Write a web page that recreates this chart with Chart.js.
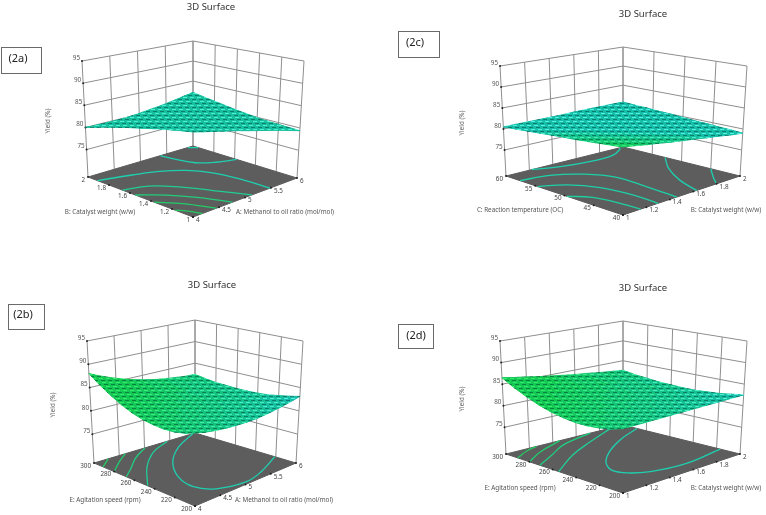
<!DOCTYPE html>
<html>
<head>
<meta charset="utf-8">
<title>3D Surface</title>
<script src="https://cdn.jsdelivr.net/npm/chart.js@4/dist/chart.umd.min.js"></script>
<style>
html,body{margin:0;padding:0;background:#fff;}
#page{position:relative;width:766px;height:515px;overflow:hidden;}
canvas{position:absolute;}
</style>
</head>
<body>
<div id="page"></div>
<script>
// tick labels
var yieldTicks = [75,80,85,90,95];
var methanolTicks = [4,4.5,5,5.5,6];
var catalystTicks = [1,1.2,1.4,1.6,1.8,2];
var temperatureTicks = [40,45,50,55,60];
var agitationTicks = [200,220,240,260,280,300];

// yield: rows go along the left hand factor, columns along the right hand factor
var surface2a = [
[86.2,85.6,85.0,84.4,83.8,83.1,82.4,81.7,81.0,80.2,79.4],
[85.8,85.2,84.7,84.1,83.5,82.8,82.2,81.5,80.9,80.2,79.5],
[85.3,84.8,84.2,83.6,83.1,82.5,81.9,81.4,80.8,80.2,79.6],
[84.8,84.3,83.7,83.2,82.7,82.2,81.7,81.2,80.7,80.2,79.7],
[84.2,83.7,83.2,82.8,82.3,81.9,81.4,81.0,80.6,80.3,79.9],
[83.6,83.2,82.7,82.3,82.0,81.6,81.3,81.0,80.7,80.4,80.2],
[83.0,82.6,82.2,81.9,81.6,81.3,81.1,80.9,80.7,80.6,80.5],
[82.3,82.0,81.7,81.4,81.2,81.1,80.9,80.9,80.8,80.8,80.9],
[81.6,81.3,81.1,81.0,80.9,80.8,80.8,80.8,80.9,81.1,81.3],
[80.8,80.6,80.5,80.4,80.4,80.5,80.6,80.8,81.0,81.3,81.7],
[80.0,79.9,79.9,79.9,80.0,80.2,80.5,80.8,81.2,81.7,82.2]];
var surface2b = [
[83.3,82.7,82.3,82.0,81.8,81.7,81.7,81.9,82.2,82.6,83.1],
[82.5,82.0,81.6,81.3,81.1,81.1,81.2,81.3,81.6,82.1,82.6],
[82.0,81.5,81.1,80.9,80.7,80.7,80.8,81.0,81.3,81.7,82.2],
[81.8,81.3,80.9,80.6,80.5,80.4,80.5,80.6,80.9,81.3,81.8],
[81.9,81.4,81.0,80.7,80.5,80.4,80.4,80.5,80.8,81.1,81.6],
[82.2,81.6,81.2,80.9,80.6,80.5,80.5,80.6,80.8,81.1,81.5],
[82.8,82.2,81.7,81.3,81.0,80.8,80.8,80.8,80.9,81.2,81.5],
[83.7,83.0,82.5,82.0,81.6,81.4,81.2,81.2,81.2,81.4,81.6],
[84.9,84.1,83.5,82.9,82.4,82.0,81.8,81.6,81.5,81.6,81.7],
[86.3,85.4,84.7,84.0,83.4,82.9,82.5,82.3,82.1,82.0,82.0],
[88.0,87.0,86.1,85.3,84.6,84.0,83.5,83.1,82.8,82.5,82.4]];
var surface2c = [
[83.4,83.0,82.5,82.1,81.6,81.2,80.8,80.3,79.9,79.4,79.0],
[83.1,82.7,82.3,81.9,81.5,81.2,80.8,80.4,80.0,79.6,79.2],
[82.8,82.5,82.1,81.8,81.4,81.1,80.7,80.4,80.0,79.7,79.3],
[82.5,82.2,81.9,81.6,81.3,81.0,80.7,80.4,80.1,79.8,79.5],
[82.2,81.9,81.7,81.4,81.2,80.9,80.6,80.4,80.1,79.9,79.6],
[82.0,81.8,81.6,81.3,81.1,80.9,80.7,80.5,80.2,80.0,79.8],
[81.7,81.5,81.4,81.2,81.0,80.9,80.7,80.5,80.3,80.2,80.0],
[81.4,81.3,81.1,81.0,80.9,80.8,80.6,80.5,80.4,80.2,80.1],
[81.1,81.0,80.9,80.9,80.8,80.7,80.6,80.5,80.5,80.4,80.3],
[80.8,80.8,80.7,80.7,80.6,80.6,80.6,80.5,80.5,80.4,80.4],
[80.5,80.5,80.5,80.5,80.5,80.5,80.6,80.6,80.6,80.6,80.6]];
var surface2d = [
[82.5,82.5,82.5,82.5,82.5,82.5,82.5,82.5,82.5,82.5,82.5],
[81.7,81.7,81.7,81.7,81.8,81.8,81.8,81.9,82.0,82.0,82.1],
[81.2,81.2,81.2,81.2,81.2,81.3,81.3,81.4,81.5,81.6,81.7],
[80.9,80.9,80.9,80.9,80.9,81.0,81.0,81.1,81.2,81.4,81.5],
[80.9,80.8,80.8,80.8,80.8,80.8,80.9,80.9,81.0,81.2,81.3],
[81.2,81.1,81.0,81.0,81.0,81.0,81.0,81.1,81.1,81.2,81.3],
[81.7,81.6,81.5,81.4,81.3,81.3,81.2,81.2,81.3,81.3,81.4],
[82.5,82.3,82.1,82.0,81.8,81.7,81.6,81.6,81.5,81.5,81.5],
[83.6,83.3,83.1,82.8,82.6,82.4,82.2,82.1,82.0,81.9,81.8],
[84.9,84.5,84.2,83.8,83.5,83.2,82.9,82.7,82.5,82.3,82.1],
[86.5,86.0,85.6,85.1,84.7,84.3,83.9,83.6,83.2,82.9,82.6]];

// contour lines on the floor, [right hand factor, left hand factor]
var contours2a = [
[[5.9,2],[6,1.95]],
[[5.38,2],[5.42,1.87],[5.51,1.73],[5.72,1.64],[6,1.58]],
[[4,1.91],[4.52,1.84],[4.9,1.77],[5.2,1.66],[5.38,1.5],[5.46,1.28],[5.48,1]],
[[4,1.67],[4.38,1.61],[4.66,1.46],[4.89,1.25],[5.13,1]],
[[4,1.55],[4.31,1.41],[4.57,1.22],[4.76,1]],
[[4,1.37],[4.25,1.22],[4.45,1]],
[[4,1.17],[4.1,1.1],[4.18,1]]];
var contours2b = [
[[5.96,300],[5.4,286],[4.9,267],[4.55,244],[4.45,224],[4.62,210],[5.08,203],[5.47,208],[6,221]],
[[5.45,300],[4.98,290],[4.49,272],[4.06,250],[4,247]],
[[5.01,300],[4.6,289],[4.27,277],[4,268]],
[[4.62,300],[4.32,291],[4,280]],
[[4.28,300],[4,291]]];
var contours2c = [
[[1.97,60],[1.95,59.5],[1.82,58.1],[1.64,57.9],[1.4,58.7],[1.22,60]],
[[2,52.8],[1.84,49],[1.71,44.5],[1.63,40]],
[[2,45],[1.87,41.9],[1.8,40]],
[[1,57.6],[1.22,56.9],[1.39,54.6],[1.49,50.9],[1.48,45.6],[1.46,40]],
[[1,54.6],[1.16,52.8],[1.27,49.3],[1.31,44.4],[1.3,40]],
[[1,49.6],[1.1,47.2],[1.14,43.3],[1.15,40]]];
var contours2d = [
[[2,288],[1.74,276.5],[1.43,256.7],[1.27,239],[1.27,227],[1.4,216.6],[1.66,211.7],[2,217]],
[[1.9,300],[1.58,286],[1.3,273],[1,255]],
[[1.72,300],[1.41,292],[1.2,281],[1,271]],
[[1.46,300],[1.2,290.5],[1,280]],
[[1.26,300],[1.15,297],[1,290]]];

var panels = [
 {tag:'(2a)', surface:surface2a, contours:contours2a, rightTicks:methanolTicks, leftTicks:catalystTicks,
  rightName:'A: Methanol to oil ratio (mol/mol)', leftName:'B: Catalyst weight (w/w)',
  ox:0, oy:0, floor:[[193,217],[297,178],[88,177],[193,146]], top:[[193,89],[304,61],[82,61],[193,41]],
  title:[211,7], box:[1,47,40,26], tagAt:[18,59], rightAt:[285,212], leftAt:[100,212], yieldAt:[48,121],
  tint:[0.08,0,0], lineTint:[0,0,0,0.4,0.7,0.9,1]},
 {tag:'(2b)', surface:surface2b, contours:contours2b, rightTicks:methanolTicks, leftTicks:agitationTicks,
  rightName:'A: Methanol to oil ratio (mol/mol)', leftName:'E: Agitation speed (rpm)',
  ox:0, oy:257, floor:[[195,506],[296,463],[94,463],[195,433]], top:[[195,374],[303,341],[87,341],[195,320]],
  title:[212,285], box:[8,304,36,25], tagAt:[23,315], rightAt:[284,500], leftAt:[105,500], yieldAt:[53,405],
  tint:[0.6,-0.65,0.6], lineTint:[0,0.3,0.6,0.8,1]},
 {tag:'(2c)', surface:surface2c, contours:contours2c, rightTicks:catalystTicks, leftTicks:temperatureTicks,
  rightName:'B: Catalyst weight (w/w)', leftName:'C: Reaction temperature (OC)',
  ox:383, oy:0, floor:[[623,215],[740,176],[506,176],[623,147]], top:[[623,93],[747,66],[500,66],[623,47]],
  title:[643,14], box:[398,31,41,26], tagAt:[415,43], rightAt:[726,210], leftAt:[520,210], yieldAt:[462,123],
  tint:[1.05,-1.3,-1.3], lineTint:[0,0,0,0.1,0.1,0.2]},
 {tag:'(2d)', surface:surface2d, contours:contours2d, rightTicks:catalystTicks, leftTicks:agitationTicks,
  rightName:'B: Catalyst weight (w/w)', leftName:'E: Agitation speed (rpm)',
  ox:383, oy:257, floor:[[623,493],[740,454],[506,454],[623,425]], top:[[623,370],[747,341],[500,341],[623,321]],
  title:[643,288], box:[398,324,35,24], tagAt:[416,336], rightAt:[726,488], leftAt:[520,488], yieldAt:[462,399],
  tint:[0.6,-0.65,0.6], lineTint:[0,0.3,0.6,0.8,1]}
];

var floorYield = 68.8, topYield = 95;
var font = '"Noto Sans", sans-serif';

function bilinear(c,u,v,i){
  return c[0][i]*(1-u)*(1-v)+c[1][i]*u*(1-v)+c[2][i]*(1-u)*v+c[3][i]*u*v;
}
function project(p,u,v,z){
  var w=(z-floorYield)/(topYield-floorYield);
  return {
    x:bilinear(p.floor,u,v,0)*(1-w)+bilinear(p.top,u,v,0)*w,
    y:bilinear(p.floor,u,v,1)*(1-w)+bilinear(p.top,u,v,1)*w
  };
}
function frac(ticks,val){ return (val-ticks[0])/(ticks[ticks.length-1]-ticks[0]); }

function mix(a,b,t){ return a.map(function(c,i){return Math.round(c+(b[i]-c)*t);}); }
function rgb(c){ return 'rgb('+c.join(',')+')'; }

// small brick texture standing in for the fine wireframe of the surface
var tiles = {};
function meshPattern(t){
  var key = Math.round(Math.max(0,Math.min(1,t))*8);
  if(tiles[key]) return tiles[key];
  var k = key/8;
  var base = mix([22,190,168],[20,200,84],k), hi = mix([80,240,226],[50,235,110],k), lo = mix([10,125,110],[8,130,60],k);
  var c = document.createElement('canvas'); c.width=7; c.height=8;
  var g = c.getContext('2d');
  g.fillStyle=rgb(base); g.fillRect(0,0,7,8);
  g.fillStyle=rgb(hi); g.fillRect(1,1,4,1); g.fillRect(4,5,3,1); g.fillRect(0,5,1,1);
  g.fillStyle=rgb(lo); g.fillRect(3,3,4,1); g.fillRect(0,7,3,1); g.fillRect(6,7,1,1);
  tiles[key]=g.createPattern(c,'repeat');
  return tiles[key];
}

function lineSet(points,color,width){
  return {data:points,showLine:true,borderColor:color,borderWidth:width,pointRadius:0,fill:false,tension:0,clip:false};
}

function buildDatasets(p){
  var sets=[], i, j;
  var ru=p.rightTicks, lv=p.leftTicks, grid='#8e8e8e';
  // back walls
  yieldTicks.forEach(function(z){
    sets.push(lineSet([project(p,0,1,z),project(p,1,1,z),project(p,1,0,z)],grid,1));
  });
  ru.forEach(function(t){
    var u=frac(ru,t);
    sets.push(lineSet([project(p,u,1,floorYield),project(p,u,1,topYield)],grid,1));
  });
  lv.forEach(function(t){
    var v=frac(lv,t);
    sets.push(lineSet([project(p,1,v,floorYield),project(p,1,v,topYield)],grid,1));
  });
  // floor
  var fl=[project(p,0,0,floorYield),project(p,1,0,floorYield),project(p,1,1,floorYield),project(p,0,1,floorYield),project(p,0,0,floorYield)];
  var floorSet=lineSet(fl,'#5a5a5a',1);
  floorSet.fill='shape'; floorSet.backgroundColor='#5d5d5d';
  sets.push(floorSet);
  // contours
  p.contours.forEach(function(line,n){
    var pts=line.map(function(q){return project(p,frac(ru,q[0]),frac(lv,q[1]),floorYield);});
    var c=rgb(mix([30,208,176],[34,204,96],p.lineTint[n]||0));
    var s=lineSet(pts,c,1.3);
    s.tension=0.4;
    sets.push(s);
  });
  // tick marks
  var marks=[];
  ru.forEach(function(t){marks.push(project(p,frac(ru,t),0,floorYield));});
  lv.forEach(function(t){marks.push(project(p,0,frac(lv,t),floorYield));});
  yieldTicks.forEach(function(z){marks.push(project(p,0,1,z));});
  sets.push({data:marks,showLine:false,pointRadius:1,pointBackgroundColor:'#222',pointBorderWidth:0,clip:false});
  // surface, painted from the back corner forward
  var n=p.surface.length-1, cells=[];
  for(j=0;j<n;j++) for(i=0;i<n;i++) cells.push([i,j]);
  cells.sort(function(a,b){return (b[0]+b[1])-(a[0]+a[1]);});
  cells.forEach(function(c){
    var a=c[0], b=c[1], S=p.surface;
    var pts=[project(p,a/n,b/n,S[b][a]),project(p,(a+1)/n,b/n,S[b][a+1]),project(p,(a+1)/n,(b+1)/n,S[b+1][a+1]),project(p,a/n,(b+1)/n,S[b+1][a]),project(p,a/n,b/n,S[b][a])];
    var um=(a+0.5)/n, vm=(b+0.5)/n;
    var pat=meshPattern(p.tint[0]+p.tint[1]*um+p.tint[2]*vm);
    var s=lineSet(pts,pat,1);
    s.fill='shape'; s.backgroundColor=pat;
    sets.push(s);
  });
  sets.forEach(function(s,k){s.order=-k;});
  return sets;
}

var textPlugin = {
  id:'panelText',
  afterDraw:function(chart){
    var p=chart.options.plugins.panelText.panel, c=chart.ctx, X=chart.scales.x, Y=chart.scales.y;
    function put(txt,x,y,size,color,align,rot){
      c.save();
      c.translate(X.getPixelForValue(x),Y.getPixelForValue(y));
      if(rot) c.rotate(rot);
      c.font=size+'px '+font; c.fillStyle=color; c.textAlign=align; c.textBaseline='middle';
      c.fillText(txt,0,0);
      c.restore();
    }
    put('3D Surface',p.title[0],p.title[1],9.5,'#333','center');
    c.strokeStyle='#6a6a6a'; c.lineWidth=1;
    c.strokeRect(X.getPixelForValue(p.box[0])+0.5,Y.getPixelForValue(p.box[1])+0.5,p.box[2],p.box[3]);
    put(p.tag,p.tagAt[0],p.tagAt[1],11,'#222','center');
    put(p.rightName,p.rightAt[0],p.rightAt[1],6.3,'#555','center');
    put(p.leftName,p.leftAt[0],p.leftAt[1],6.3,'#555','center');
    put('Yield (%)',p.yieldAt[0],p.yieldAt[1],6.3,'#666','center',-Math.PI/2);
    yieldTicks.forEach(function(z){
      var q=project(p,0,1,z);
      put(String(z),q.x-2,q.y-3,6.3,'#555','right');
    });
    p.rightTicks.forEach(function(t){
      var q=project(p,frac(p.rightTicks,t),0,floorYield);
      put(String(t),q.x+3,q.y+3,6.3,'#444','left');
    });
    p.leftTicks.forEach(function(t){
      var q=project(p,0,frac(p.leftTicks,t),floorYield);
      put(String(t),q.x-3,q.y+3,6.3,'#444','right');
    });
  }
};

panels.forEach(function(p){
  var cv=document.createElement('canvas');
  cv.style.left=p.ox+'px'; cv.style.top=p.oy+'px';
  cv.width=383; cv.height=258;
  document.getElementById('page').appendChild(cv);
  new Chart(cv.getContext('2d'),{
    type:'line',
    data:{datasets:buildDatasets(p)},
    options:{
      responsive:false,
      animation:false,
      events:[],
      layout:{padding:0,autoPadding:false},
      scales:{
        x:{type:'linear',display:false,min:p.ox,max:p.ox+383},
        y:{type:'linear',display:false,min:p.oy,max:p.oy+258,reverse:true}
      },
      plugins:{legend:{display:false},tooltip:{enabled:false},title:{display:false},panelText:{panel:p}}
    },
    plugins:[textPlugin]
  });
});
</script>
</body>
</html>
